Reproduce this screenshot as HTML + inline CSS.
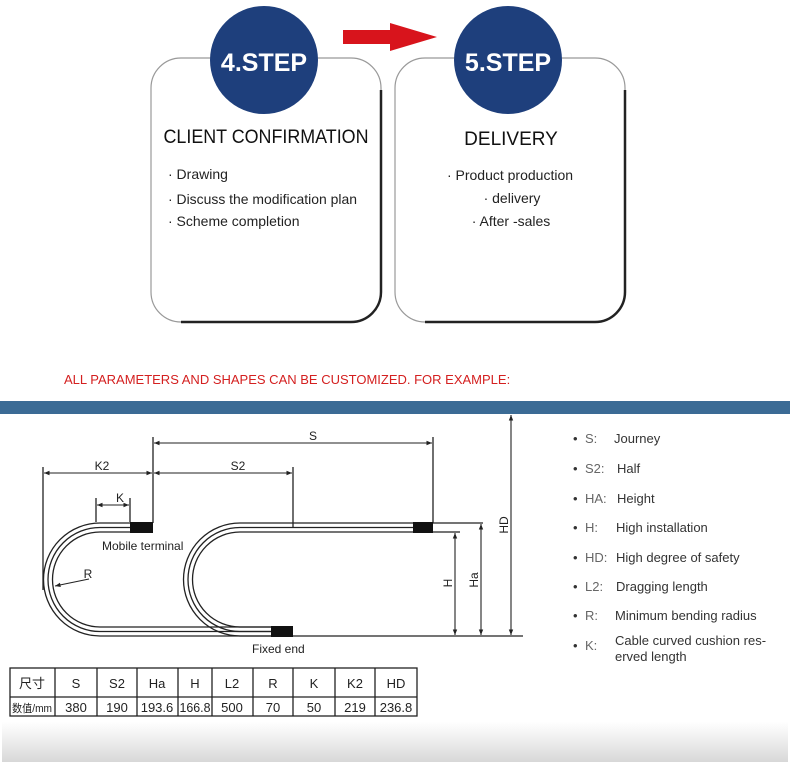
<!DOCTYPE html>
<html><head><meta charset="utf-8"><style>
html,body{margin:0;padding:0;background:#fff;}
body{width:790px;height:778px;overflow:hidden;position:relative;font-family:"Liberation Sans","Noto Sans CJK SC",sans-serif;}
svg{position:absolute;left:0;top:0;}
</style></head><body>
<svg width="790" height="778" viewBox="0 0 790 778" xmlns="http://www.w3.org/2000/svg" font-family="Liberation Sans, Noto Sans CJK SC, sans-serif">
<defs>
<linearGradient id="g" x1="0" y1="0" x2="0" y2="1"><stop offset="0" stop-color="#fff"/><stop offset="1" stop-color="#d8d8d8"/></linearGradient>
<marker id="a" viewBox="0 0 10 10" refX="10" refY="5" markerWidth="7" markerHeight="5" orient="auto-start-reverse"><path d="M0,1 L10,5 L0,9 Z" fill="#222"/></marker>
</defs>
<rect x="151" y="58" width="230" height="264" rx="30" fill="#fff" stroke="#999" stroke-width="1.2"/>
<path d="M381 90 V292 A30 30 0 0 1 351 322 H181" fill="none" stroke="#222" stroke-width="2.5"/>
<rect x="395" y="58" width="230" height="264" rx="30" fill="#fff" stroke="#999" stroke-width="1.2"/>
<path d="M625 90 V292 A30 30 0 0 1 595 322 H425" fill="none" stroke="#222" stroke-width="2.5"/>
<circle cx="264" cy="60" r="54" fill="#1e3f7c"/>
<circle cx="508" cy="60" r="54" fill="#1e3f7c"/>
<text x="264" y="71" text-anchor="middle" fill="#fff" font-size="25" font-weight="bold">4.STEP</text>
<text x="508" y="71" text-anchor="middle" fill="#fff" font-size="25" font-weight="bold">5.STEP</text>
<path d="M343 30 H390 V23 L437 37 L390 51 V44 H343 Z" fill="#d8141c"/>
<text x="266" y="143" text-anchor="middle" font-size="19" fill="#111" textLength="205" lengthAdjust="spacingAndGlyphs">CLIENT CONFIRMATION</text>
<text x="511" y="145" text-anchor="middle" font-size="19" fill="#111">DELIVERY</text>
<g font-size="14" fill="#222">
<text x="168" y="179">· Drawing</text>
<text x="168" y="204" textLength="189" lengthAdjust="spacingAndGlyphs">· Discuss the modification plan</text>
<text x="168" y="226">· Scheme completion</text>
<text x="510" y="180" text-anchor="middle">· Product production</text>
<text x="512" y="203" text-anchor="middle">· delivery</text>
<text x="511" y="226" text-anchor="middle">· After -sales</text>
</g>
<text x="64" y="384" font-size="13" fill="#d42020">ALL PARAMETERS AND SHAPES CAN BE CUSTOMIZED. FOR EXAMPLE:</text>
<rect x="0" y="401" width="790" height="13" fill="#3b6b95"/>
<g fill="none" stroke="#222" stroke-width="1.3">
<path d="M130 523 H100 A56.5 56.5 0 0 0 100 636 H271"/>
<path d="M130 527.5 H100 A52 52 0 0 0 100 631.5 H271"/>
<path d="M130 532 H100 A47.5 47.5 0 0 0 100 627 H271"/>
<path d="M413 523 H240 A56.5 56.5 0 0 0 240 636 H271"/>
<path d="M413 527.5 H240 A52 52 0 0 0 240 631.5 H271"/>
<path d="M413 532 H240 A47.5 47.5 0 0 0 240 627 H271"/>
<path d="M433 523 H483 M433 532 H460 M293 636 H523"/>
<path d="M153 437 V523 M433 437 V523 M293 467 V528 M43 467 V590 M96 498 V522 M130 498 V522"/>
</g>
<g stroke="#222" stroke-width="1.1" fill="none">
<line x1="154" y1="443" x2="432" y2="443" marker-start="url(#a)" marker-end="url(#a)"/>
<line x1="154" y1="473" x2="292" y2="473" marker-start="url(#a)" marker-end="url(#a)"/>
<line x1="44" y1="473" x2="152" y2="473" marker-start="url(#a)" marker-end="url(#a)"/>
<line x1="97" y1="505" x2="129" y2="505" marker-start="url(#a)" marker-end="url(#a)"/>
<line x1="89" y1="579" x2="55" y2="586" marker-end="url(#a)"/>
<line x1="455" y1="533" x2="455" y2="635" marker-start="url(#a)" marker-end="url(#a)"/>
<line x1="481" y1="524" x2="481" y2="635" marker-start="url(#a)" marker-end="url(#a)"/>
<line x1="511" y1="415" x2="511" y2="635" marker-start="url(#a)" marker-end="url(#a)"/>
</g>
<rect x="130" y="522" width="23" height="11" fill="#111"/>
<rect x="413" y="522" width="20" height="11" fill="#111"/>
<rect x="271" y="626" width="22" height="11" fill="#111"/>
<g font-size="12" fill="#222">
<text x="313" y="440" text-anchor="middle">S</text>
<text x="238" y="470" text-anchor="middle">S2</text>
<text x="102" y="470" text-anchor="middle">K2</text>
<text x="120" y="502" text-anchor="middle">K</text>
<text x="88" y="578" text-anchor="middle">R</text>
<text transform="translate(452,583) rotate(-90)" text-anchor="middle">H</text>
<text transform="translate(478,580) rotate(-90)" text-anchor="middle">Ha</text>
<text transform="translate(508,525) rotate(-90)" text-anchor="middle">HD</text>
<text x="102" y="550" font-size="12">Mobile terminal</text>
<text x="252" y="653" font-size="12">Fixed end</text>
</g>
<g font-size="13" fill="#333">
<text x="573" y="443">•</text><text x="585" y="443" fill="#666">S:</text><text x="614" y="443">Journey</text>
<text x="573" y="473">•</text><text x="585" y="473" fill="#666">S2:</text><text x="617" y="473">Half</text>
<text x="573" y="503">•</text><text x="585" y="503" fill="#666">HA:</text><text x="617" y="503">Height</text>
<text x="573" y="532">•</text><text x="585" y="532" fill="#666">H:</text><text x="616" y="532">High installation</text>
<text x="573" y="562">•</text><text x="585" y="562" fill="#666">HD:</text><text x="616" y="562">High degree of safety</text>
<text x="573" y="591">•</text><text x="585" y="591" fill="#666">L2:</text><text x="616" y="591">Dragging length</text>
<text x="573" y="620">•</text><text x="585" y="620" fill="#666">R:</text><text x="615" y="620">Minimum bending radius</text>
<text x="573" y="650">•</text><text x="585" y="650" fill="#666">K:</text><text x="615" y="645">Cable curved cushion res-</text><text x="615" y="661">erved length</text>
</g>
<g fill="none" stroke="#222" stroke-width="1.3">
<rect x="10" y="668" width="407" height="48"/>
<line x1="10" y1="697" x2="417" y2="697"/>
<path d="M55 668V716 M97 668V716 M137 668V716 M178 668V716 M212 668V716 M253 668V716 M293 668V716 M335 668V716 M375 668V716"/>
</g>
<g font-size="13" fill="#222" text-anchor="middle">
<text x="32" y="688">尺寸</text><text x="76" y="688">S</text><text x="117" y="688">S2</text><text x="157" y="688">Ha</text><text x="195" y="688">H</text><text x="232" y="688">L2</text><text x="273" y="688">R</text><text x="314" y="688">K</text><text x="355" y="688">K2</text><text x="396" y="688">HD</text>
<text x="32" y="712" font-size="11" textLength="40" lengthAdjust="spacingAndGlyphs">数值/mm</text><text x="76" y="712">380</text><text x="117" y="712">190</text><text x="157" y="712">193.6</text><text x="195" y="712" textLength="31" lengthAdjust="spacingAndGlyphs">166.8</text><text x="232" y="712">500</text><text x="273" y="712">70</text><text x="314" y="712">50</text><text x="355" y="712">219</text><text x="396" y="712">236.8</text>
</g>
<rect x="2" y="722" width="786" height="40" fill="url(#g)"/>
</svg>
</body></html>
